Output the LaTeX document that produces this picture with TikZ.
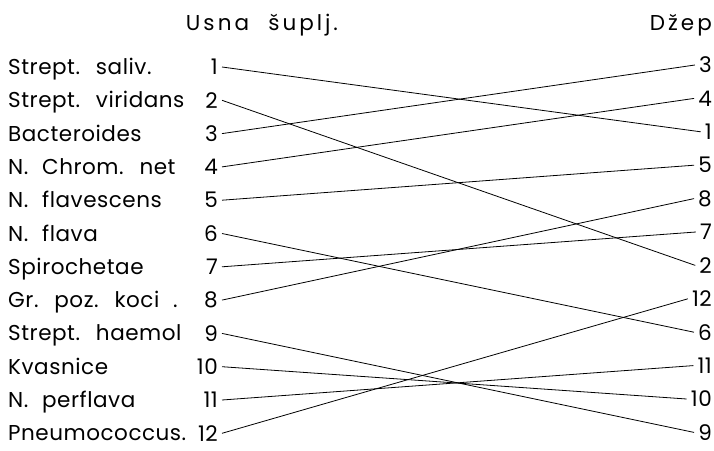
\documentclass[tikz,border=0pt]{standalone}
\usepackage{fontspec}
\setmainfont{Poppins}[LetterSpace=2.5, WordSpace=2.2]
\begin{document}
\begin{tikzpicture}[x=1pt, y=-1pt,
   txt/.style={inner sep=0pt, font=\fontsize{21.5}{21.5}\selectfont},
   head/.style={txt, font=\fontsize{21.5}{21.5}\selectfont\addfontfeatures{LetterSpace=14}},
   num/.style={inner ysep=1pt, inner xsep=4pt, fill=white,
      font=\fontsize{21.5}{21.5}\selectfont},
   link/.style={line width=0.8pt}]
\useasboundingbox (0,0) rectangle (714,450);
\node[head, anchor=base] (usna) at (262,30) {Usna šuplj.};
\node[head, anchor=base east] (dzep) at (712,30) {Džep};
\foreach \i/\t in {1/Strept. saliv., 2/Strept. viridans, 3/Bacteroides,
   4/N. Chrom. net, 5/N. flavescens, 6/N. flava, 7/Spirochetae,
   8/Gr. poz. koci ., 9/Strept. haemol, 10/Kvasnice, 11/N. perflava,
   12/Pneumococcus.}
{
  \node[txt, anchor=base west] (T\i) at (8, {74.5+33.3*(\i-1)}) {\t};
  \node[num, anchor=east] (L\i) at (222, {67+33.3*(\i-1)}) {\i};
}
\foreach \n [count=\k] in {3,4,1,5,8,7,2,12,6,11,10,9}
  \node[num, anchor=east] (R\n) at (716, {65+33.4*(\k-1)}) {\n};
\foreach \i in {1,...,12}
  \draw[link] (L\i.east) -- (R\i.west);
\end{tikzpicture}
\end{document}
